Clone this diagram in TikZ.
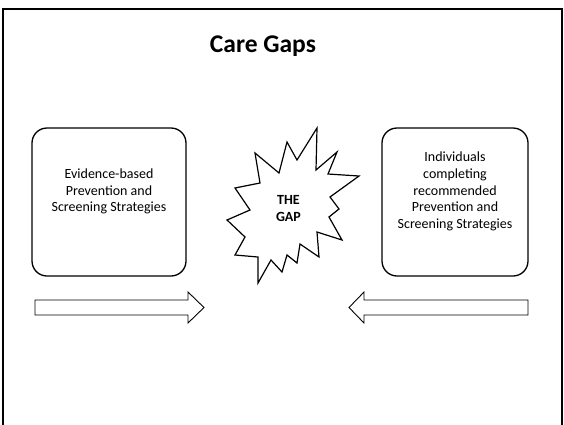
\documentclass[tikz,border=0pt]{standalone}
\usepackage{fontspec}
\setmainfont{Carlito}
\begin{document}
\begin{tikzpicture}[x=1pt,y=1pt,
  gapbox/.style={draw=black,line width=1.3pt,rounded corners=15pt},
  boxtext/.style={align=center,font=\fontsize{14}{16.7}\selectfont},
  blockarrow/.style={draw=black,line width=0.9pt,line join=miter}]
\tikzstyle{every node}+=[inner sep=0pt]
\useasboundingbox (0,0) rectangle (564,-424);
\clip (0,0) rectangle (564,-424);
\draw [black,line width=2pt] (3,-9) rectangle (562,-440);
\node [anchor=base,font=\fontsize{25.5}{30}\bfseries\selectfont] (title) at (263,-52.7) {Care Gaps};
\node [gapbox,minimum width=154,minimum height=148] (evidence) at (109,-202) {};
\node [boxtext] (evidencetext) at (109,-191.5) {Evidence-based\\Prevention and\\Screening Strategies};
\node [gapbox,minimum width=146,minimum height=148] (people) at (455,-202) {};
\node [boxtext] (peopletext) at (455,-191.5) {Individuals\\completing\\recommended\\Prevention and\\Screening Strategies};
\draw [black,line width=1.2pt,line join=miter] (317,-128) -- (316,-170) -- (337,-152) -- (328,-174)
  -- (359,-176) -- (330,-197) -- (339,-209) -- (329,-217) -- (342,-240) -- (317,-232)
  -- (319,-257) -- (300,-244) -- (297,-263) -- (287,-255) -- (282,-272) -- (271,-260)
  -- (258,-283) -- (258,-257) -- (235,-255) -- (245,-237) -- (227,-220) -- (250,-210)
  -- (235,-188) -- (260,-183) -- (255,-153) -- (279,-173) -- (287,-142) -- (297,-160) -- cycle;
\node [align=center,font=\fontsize{14}{16.7}\bfseries\selectfont] (gap) at (288.5,-208.5) {THE\\GAP};
\draw [blockarrow] (35,-300) -- (188,-300) -- (188,-292) -- (204,-307.5) -- (188,-323) -- (188,-315) -- (35,-315) -- cycle;
\draw [blockarrow] (528,-300) -- (364,-300) -- (364,-292) -- (349,-307.5) -- (364,-323) -- (364,-315) -- (528,-315) -- cycle;
\end{tikzpicture}
\end{document}
